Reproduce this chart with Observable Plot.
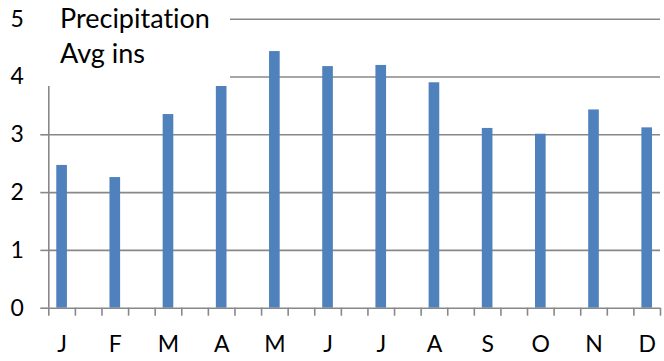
<!DOCTYPE html>
<html><head><meta charset="utf-8">
<script src="https://cdn.jsdelivr.net/npm/d3@7"></script>
<script src="https://cdn.jsdelivr.net/npm/@observablehq/plot@0.6"></script>
<style>
body{margin:0;background:#fff;}
#wrap{position:relative;width:664px;height:361px;font-family:Lato,sans-serif;font-variant-ligatures:none;}
#title{position:absolute;left:40px;top:0;width:190px;height:86px;background:#fff;font-size:27px;line-height:35px;color:#000;padding-left:20px;box-sizing:border-box;font-variant-ligatures:none;}
svg text{font-variant-ligatures:none;}
</style>
</head><body>
<div id="wrap"><div id="chart"></div><div id="title">Precipitation<br>Avg ins</div></div>
<script>
const months = ["J","F","M","A","M","J","J","A","S","O","N","D"];
const values = [2.47, 2.26, 3.35, 3.84, 4.44, 4.18, 4.20, 3.90, 3.11, 3.01, 3.43, 3.12];
const yTicks = [0, 1, 2, 3, 4, 5];
const titleLines = ["Precipitation", "Avg ins"];

const data = months.map((m, i) => ({m, v: values[i], i}));
const slotEdges = d3.range(months.length * 2);
const gray = "#888888";

const chart = Plot.plot({
  width: 664, height: 361,
  marginLeft: 48.3, marginRight: 4, marginTop: 18.7, marginBottom: 53.3,
  x: {domain: [0, months.length * 2 - 1], label: null},
  y: {domain: [0, 5], label: null},
  style: {fontFamily: "Lato, sans-serif", fontSize: "23px", color: "#000", background: "#fff", overflow: "visible"},
  marks: [
    Plot.ruleY(yTicks.slice(1), {stroke: gray, strokeWidth: 1.6}),
    Plot.rectY(data, {x1: d => d.i * 2 + 0.3, x2: d => d.i * 2 + 0.7, y: "v", fill: "#4F81BD"}),
    Plot.ruleY([0], {stroke: gray, strokeWidth: 1.6}),
    Plot.ruleX([0], {stroke: gray, strokeWidth: 1.6}),
    Plot.axisY(yTicks, {tickSize: 8, tickPadding: 17, stroke: gray, strokeWidth: 1.6, fontSize: 23, tickFormat: d => String(d)}),
    Plot.axisX(slotEdges, {tickSize: 8, tickFormat: () => "", stroke: gray, strokeWidth: 1.6}),
    Plot.axisX(data.map(d => d.i * 2 + 0.5), {tickSize: 0, tickPadding: 27, fontSize: 23, tickFormat: d => months[Math.round((d - 0.5) / 2)]})
  ]
});
document.getElementById("chart").appendChild(chart);
document.getElementById("title").innerHTML = titleLines.join("<br>");
</script>
</body></html>
